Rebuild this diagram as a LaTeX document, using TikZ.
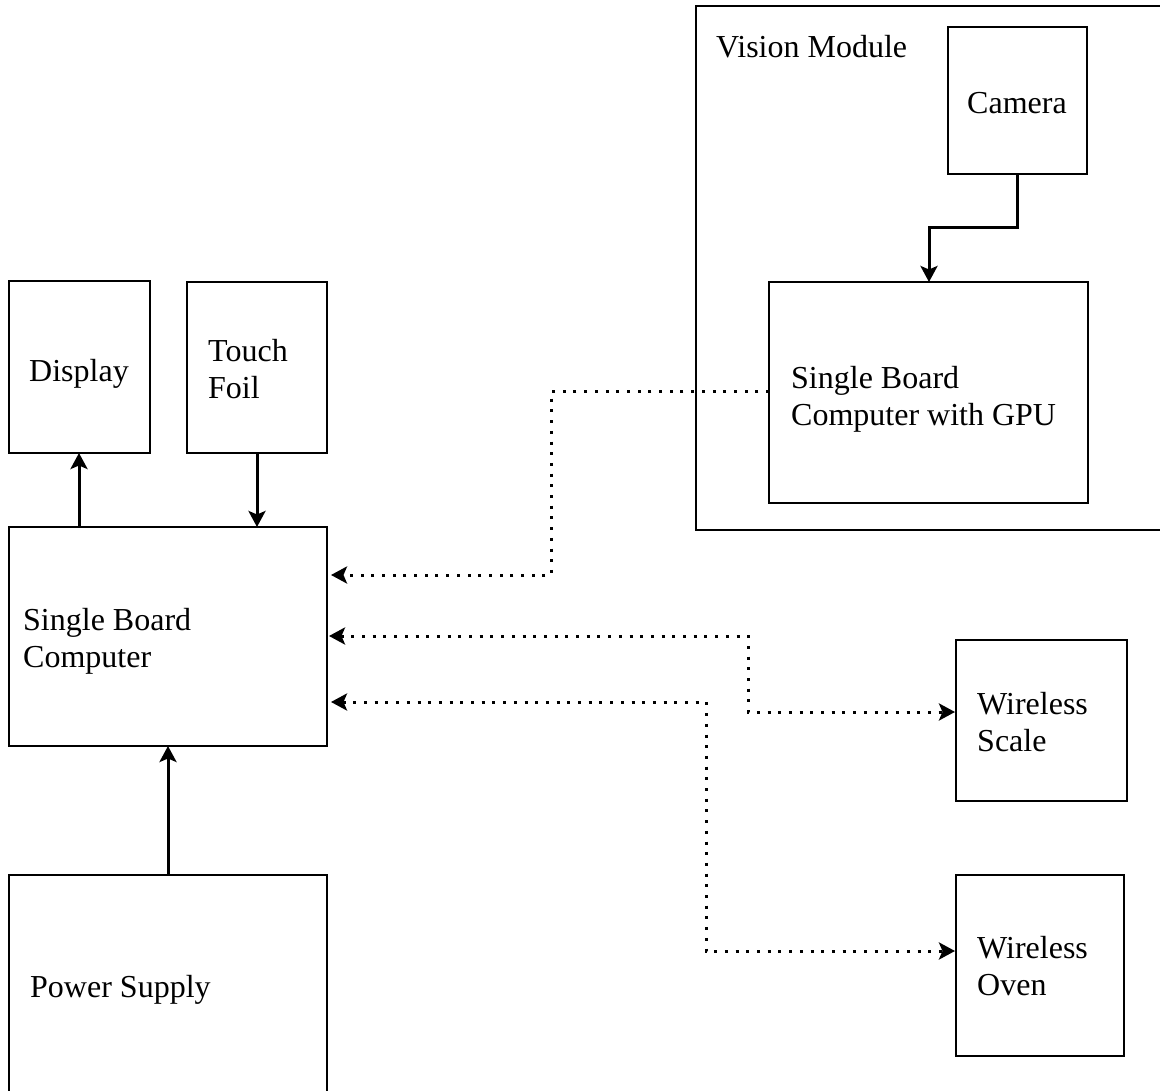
\documentclass[tikz,border=0pt]{standalone}
\usepackage{fontspec}
\setmainfont{Liberation Serif}
\usetikzlibrary{arrows.meta}
\begin{document}
\begin{tikzpicture}[x=1pt,y=-1pt,
  box/.style={draw, line width=2.5pt, inner sep=0pt, outer sep=0pt, anchor=north west},
  lbl/.style={anchor=west, inner sep=0pt, align=left, font=\fontsize{32}{37}\selectfont},
  tip/.tip={Stealth[length=16pt,width=17pt,inset=3.5pt]},
  sarrow/.style={line width=3pt, -tip},
  dl/.style={line width=3pt, dash pattern=on 3pt off 7.7pt},
]
\useasboundingbox (0,0) rectangle (1160,1091);
\clip (0,0) rectangle (1160,1091);

% boxes
\node[box, minimum width=470pt, minimum height=524pt] (vm) at (696,6) {};
\node[box, minimum width=139pt, minimum height=147pt] (cam) at (948,27) {};
\node[box, minimum width=319pt, minimum height=221pt] (gpu) at (769,282) {};
\node[box, minimum width=141pt, minimum height=172pt] (disp) at (9,281) {};
\node[box, minimum width=140pt, minimum height=171pt] (tf) at (187,282) {};
\node[box, minimum width=318pt, minimum height=219pt] (sbc) at (9,527) {};
\node[box, minimum width=318pt, minimum height=225pt] (ps) at (9,875) {};
\node[box, minimum width=171pt, minimum height=161pt] (ws) at (956,640) {};
\node[box, minimum width=168pt, minimum height=181pt] (wo) at (956,875) {};

% labels
\node[lbl] (tvm) at (716,47) {Vision Module};
\node[lbl] (tcam) at (967,103) {Camera};
\node[lbl] (tgpu) at (791,399) {Single Board\\Computer with GPU};
\node[lbl] (tdisp) at (29,374) {Display};
\node[lbl] (ttf) at (208,369) {Touch\\Foil};
\node[lbl] (tsbc) at (23,641) {Single Board\\Computer};
\node[lbl] (tps) at (30,990) {Power Supply};
\node[lbl] (tws) at (977,722) {Wireless\\Scale};
\node[lbl] (two) at (977,966) {Wireless\\Oven};

% helper coordinates
\coordinate (x79) at (79,0);
\coordinate (x257) at (257,0);
\coordinate (x168) at (168,0);
\coordinate (x1017) at (1017,0);
\coordinate (x929) at (929,0);
\coordinate (y392) at (0,392);
\coordinate (y575) at (0,575);
\coordinate (y636) at (0,636);
\coordinate (y712) at (0,712);
\coordinate (y702) at (0,702);
\coordinate (y951) at (0,951);

% solid connectors
\draw[sarrow] (sbc.north -| x79) -- (disp.south -| x79);
\draw[sarrow] (tf.south -| x257) -- (sbc.north -| x257);
\draw[sarrow] (ps.north -| x168) -- (sbc.south -| x168);
\draw[sarrow] (cam.south -| x1017) -- (1017,228) -| (gpu.north -| x929);

% dotted connectors
\draw[dl, -tip] (gpu.west |- y392) -- (551,392) -- (551,575) -- ([xshift=4pt]sbc.east |- y575);
\draw[dl, tip-tip, shorten <=2pt, shorten >=1pt]
  (sbc.east |- y636) -- (748,636) -- (748,712) -- (ws.west |- y712);
\draw[dl, tip-tip, shorten <=4pt, shorten >=1pt]
  (sbc.east |- y702) -- (706,702) -- (706,951) -- (wo.west |- y951);
\end{tikzpicture}
\end{document}
